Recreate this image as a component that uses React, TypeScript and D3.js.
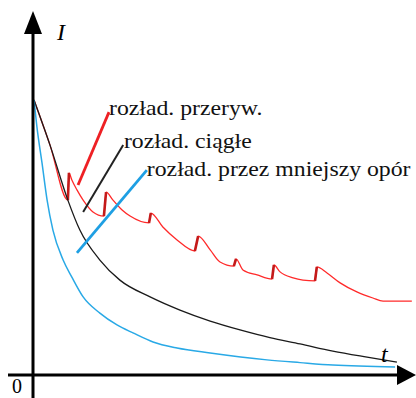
import React from 'react';
import * as d3 from 'd3';

// time (arbitrary units) and current (% of initial value)
const blackT = [0, 4.4, 9.3, 12.6, 18.1, 23.6, 31.9, 40.1, 48.4, 56.6, 64.8, 73.1, 82.1, 91.5, 99.7];
const blackI = [100, 83.6, 63.6, 52.7, 41.8, 34.5, 28.4, 23.6, 19.6, 16.4, 13.6, 11.3, 8.7, 6.5, 4.7];

const blueT = [0, 0.8, 2.2, 3.6, 5.2, 8.0, 10.4, 13.5, 18.1, 22.8, 27.2, 32.7, 39.3, 48.4, 64.0, 73.1, 82.1, 99.2];
const blueI = [100, 90.2, 77.1, 63.6, 52.7, 41.8, 35.6, 28.4, 22.5, 18.2, 15.3, 12.0, 9.8, 8.0, 5.5, 4.5, 3.6, 2.9];

const redT = [0, 4.4, 9.3, 9.6, 10.4, 11.8, 13.5, 16.2, 19.2, 19.8, 21.7, 24.2, 26.4, 31.6, 32.1, 35.4, 39.3, 44.2,
  45.1, 48.4, 51.1, 54.9, 55.5, 57.4, 61.3, 65.4, 65.9, 67.6, 71.2, 73.9, 77.2, 77.7, 80.5, 84.1, 88.7, 93.1, 95.9, 103.8];
const redI = [100, 83.6, 63.6, 73.5, 70.9, 67.3, 63.6, 59.3, 57.8, 66.5, 63.6, 60.0, 57.8, 55.3, 58.9, 53.8, 49.1, 45.1,
  50.5, 45.5, 41.1, 39.6, 42.2, 38.2, 36.4, 34.9, 40.0, 37.5, 35.3, 34.5, 34.2, 39.3, 37.1, 33.5, 30.2, 28.0, 26.9, 26.9];

// annotation labels: text, leader start (t, I), leader end (t, I), text anchor (t, I)
const labels = ['rozład. przeryw.', 'rozład. ciągłe', 'rozład. przez mniejszy opór'];
const leaderFrom = [[12.1, 69.1], [13.5, 59.3], [11.8, 44.4]];
const leaderTo = [[20.6, 95.6], [24.5, 83.6], [31.0, 74.5]];
const labelAt = [[20.6, 94.5], [24.7, 82.5], [31.0, 72.4]];
const colors = ['#ee2024', '#222222', '#1e9fe3'];

const textStyle = { fontFamily: 'Liberation Serif, serif' };

const App = () => {
  const width = 416;
  const height = 398;

  const x = d3.scaleLinear().domain([0, 100]).range([34, 398]);
  const y = d3.scaleLinear().domain([0, 100]).range([375, 100]);

  const line = d3.line()
    .x(d => x(d[0]))
    .y(d => y(d[1]))
    .curve(d3.curveMonotoneX);

  const red = redT.map((t, i) => [t, redI[i]]);
  const black = blackT.map((t, i) => [t, blackI[i]]);
  const blue = blueT.map((t, i) => [t, blueI[i]]);

  // jumps (current rising again after a break) get a heavier stroke
  const jumps = red.map((d, i) => (i > 0 && d[1] > red[i - 1][1] ? [red[i - 1], d] : null)).filter(Boolean);

  const x0 = x(0) - 1;
  const y0 = y(0);

  return (
    <svg width={width} height={height} style={{ position: 'absolute', left: 0, top: 0 }}>
      <path d={line(red)} fill="none" stroke="#ff2a2a" strokeWidth={1.3} />
      {jumps.map((j, i) => (
        <line key={i} x1={x(j[0][0])} y1={y(j[0][1])} x2={x(j[1][0])} y2={y(j[1][1])}
          stroke="#c41a1a" strokeWidth={2.6} />
      ))}
      <path d={line(black)} fill="none" stroke="#1a1a1a" strokeWidth={1.3} />
      <path d={line(blue)} fill="none" stroke="#29a9e6" strokeWidth={1.5} />

      {/* axes: plain arrows, no ticks */}
      <line x1={8} y1={y0} x2={400} y2={y0} stroke="#000" strokeWidth={3} />
      <line x1={x0} y1={height} x2={x0} y2={30} stroke="#000" strokeWidth={3} />
      <path d={`M${x0},11 L${x0 - 9},34 L${x0 + 9},34 Z`} fill="#000" />
      <path d={`M${width},${y0} L397,${y0 - 10} L397,${y0 + 10} Z`} fill="#000" />

      {labels.map((txt, i) => (
        <g key={txt}>
          <line x1={x(leaderFrom[i][0])} y1={y(leaderFrom[i][1])}
            x2={x(leaderTo[i][0])} y2={y(leaderTo[i][1])}
            stroke={colors[i]} strokeWidth={i === 1 ? 2 : 2.8} />
          <text transform={`translate(${x(labelAt[i][0])},${y(labelAt[i][1])}) scale(1.08,1)`}
            style={textStyle} fontSize={22} fill="#111">{txt}</text>
        </g>
      ))}

      <text x={57} y={40} style={textStyle} fontStyle="italic" fontSize={24}>I</text>
      <text x={381} y={362} style={textStyle} fontStyle="italic" fontSize={24}>t</text>
      <text x={12} y={393} style={textStyle} fontSize={20}>0</text>
    </svg>
  );
};

export default App;
